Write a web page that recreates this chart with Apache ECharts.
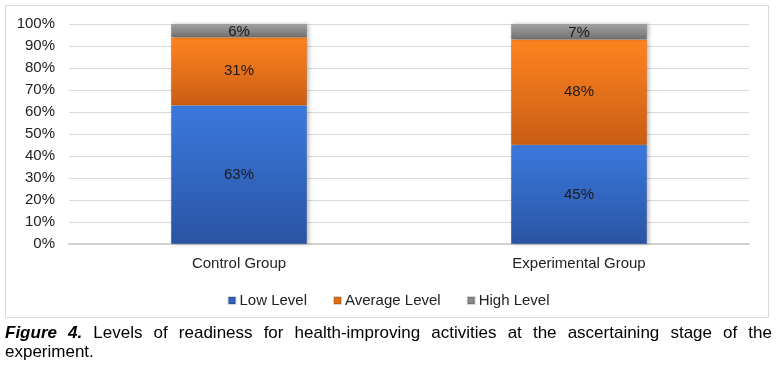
<!DOCTYPE html>
<html>
<head>
<meta charset="utf-8">
<script src="https://cdn.jsdelivr.net/npm/echarts@6/dist/echarts.min.js"></script>
<style>
html,body{margin:0;padding:0;background:#fff;}
#chart{position:absolute;left:0;top:0;width:777px;height:367px;}
#caption{position:absolute;left:5px;top:323px;width:767px;font-family:"Liberation Sans",Arial,sans-serif;font-size:17px;line-height:19px;text-align:justify;text-align-last:left;color:#000;}
</style>
</head>
<body>
<div id="chart"></div>
<div id="caption"><b><i>Figure 4.</i></b> Levels of readiness for health-improving activities at the ascertaining stage of the experiment.</div>
<script>
const categories = ["Control Group", "Experimental Group"];
const seriesNames = ["Low Level", "Average Level", "High Level"];
const lowLevel = [63, 45];
const averageLevel = [31, 48];
const highLevel = [6, 7];
const yTicks = [0, 10, 20, 30, 40, 50, 60, 70, 80, 90, 100];

const grad = (a, b) => new echarts.graphic.LinearGradient(0, 0, 0, 1, [{offset: 0, color: a}, {offset: 1, color: b}]);
const colors = [grad('#3b79de', '#2a54a3'), grad('#ff8420', '#c95d14'), grad('#a3a3a3', '#707070')];
const legendColors = ['#2f62bd', '#e2701a', '#8a8a8a'];
const values = [lowLevel, averageLevel, highLevel];

const chart = echarts.init(document.getElementById('chart'));
chart.setOption({
  animation: false,
  textStyle: {fontFamily: 'Liberation Sans, Arial, sans-serif'},
  graphic: [{
    type: 'rect', shape: {x: 5.5, y: 5.5, width: 763, height: 312},
    style: {fill: 'none', stroke: '#d9d9d9', lineWidth: 1}, silent: true, z: -1
  }],
  grid: {left: 69, right: 28, top: 24, bottom: 123, containLabel: false},
  legend: {
    top: 288, left: 'center',
    itemWidth: 7, itemHeight: 7, itemGap: 26, icon: 'rect',
    textStyle: {fontSize: 15, color: '#222', padding: [0, 0, 0, -1]},
    data: seriesNames.map((n, i) => ({name: n, itemStyle: {color: legendColors[i]}}))
  },
  xAxis: {
    type: 'category', data: categories,
    axisLine: {lineStyle: {color: '#d0d0d0', width: 2}},
    axisTick: {show: false},
    axisLabel: {fontSize: 15, color: '#222', margin: 12}
  },
  yAxis: {
    type: 'value', min: 0, max: 100, interval: 10,
    axisLabel: {fontSize: 15, color: '#222', margin: 14, formatter: v => yTicks.includes(v) ? v + '%' : ''},
    splitLine: {lineStyle: {color: '#d9d9d9', width: 1}},
    axisLine: {show: false}, axisTick: {show: false}
  },
  series: seriesNames.map((n, i) => ({
    name: n, type: 'bar', stack: 'total', barWidth: '40%',
    data: values[i],
    itemStyle: {color: colors[i], borderColor: 'rgba(0,0,0,0.15)', borderWidth: 0.5, shadowColor: 'rgba(0,0,0,0.25)', shadowBlur: 4, shadowOffsetX: 2},
    label: {show: true, position: 'inside', fontSize: 15, color: '#1a1a1a', offset: i === 2 ? [0, 1] : [0, 0], formatter: p => p.value + '%'}
  }))
});
</script>
</body>
</html>
